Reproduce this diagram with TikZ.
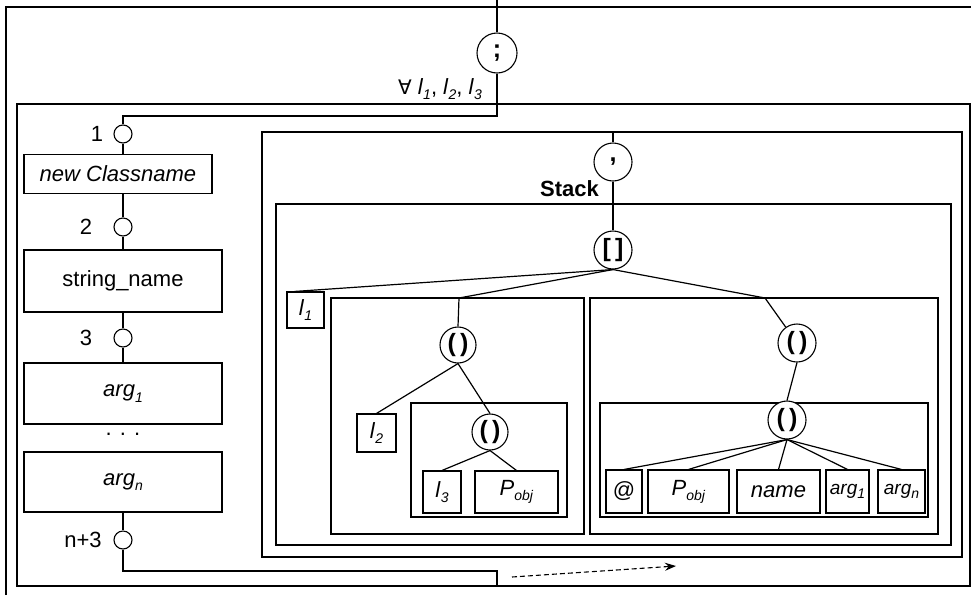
\documentclass[tikz,border=0pt]{standalone}
\usepackage{fontspec}
\setmainfont{Liberation Sans}
\newfontfamily\dejavu{DejaVu Sans}
\usetikzlibrary{arrows.meta,fit}
\newcommand\mysub[1]{\raisebox{-0.45ex}{\fontsize{14}{14}\selectfont\textit{#1}}}
\begin{document}
\begin{tikzpicture}[x=1pt,y=-1pt,
  every node/.style={font=\fontsize{22}{24}\selectfont},
  ln/.style={line width=1.2pt},
  frm/.style={draw, line width=1.1pt, inner sep=0pt, rectangle},
  box/.style={draw, line width=1.1pt, inner sep=0pt, rectangle},
  op/.style={draw, circle, line width=1.1pt, inner sep=0pt, minimum size=38pt, font=\bfseries\fontsize{25}{25}\selectfont},
  opsm/.style={op, minimum size=36pt},
  port/.style={draw, circle, line width=1.1pt, inner sep=0pt, minimum size=18pt},
  lbl/.style={inner sep=0pt}
]
\useasboundingbox (0,0) rectangle (971,595);
\fill[white] (0,0) rectangle (971,595);

% outer frame (cut off at right and bottom)
\draw[ln] (6,595) -- (6,7) -- (971,7);
\coordinate (top) at (497,0);
\node[op, minimum size=40pt] (semi) at (497,53) {;};
\node[lbl, anchor=east] (forall) at (482,89) {{\dejavu\fontsize{20}{22}\selectfont ∀} \textit{l}\mysub{1}, \textit{l}\mysub{2}, \textit{l}\mysub{3}};

% forall frame
\node[frm, fit={(17,104) (970,586)}] (fa) {};
\coordinate (j1) at (497,116);
\coordinate (j2) at (497,571);
\coordinate (j3) at (497,586);

% left column
\node[port] (p1) at (123,134) {};
\node[lbl] (n1) at (97,134) {1};
\node[box, minimum width=188pt, minimum height=39pt] (b1) at (118,174) {\textit{new Classname}};
\node[port] (p2) at (123,227) {};
\node[lbl] (n2) at (86,227) {2};
\node[box, minimum width=198pt, minimum height=62pt] (b2) at (123,281) {string\_name};
\node[port] (p3) at (123,338) {};
\node[lbl] (n3) at (86,338) {3};
\node[box, minimum width=198pt, minimum height=61pt] (b3) at (123,393.5) {\textit{arg}\mysub{1}};
\node[lbl] (dots) at (123,434) {. . .};
\node[box, minimum width=198pt, minimum height=60pt] (b4) at (123,482) {\textit{arg}\mysub{n}};
\node[port] (pn) at (123,540) {};
\node[lbl] (nn) at (83,540) {n+3};

\draw[ln] (top) -- (semi.north);
\draw[ln] (semi.south) -- (j1) -| (p1.north);
\draw[ln] (p1.south) -- (p1.south |- b1.north);
\draw[ln] (p2.north) -- (p2.north |- b1.south);
\draw[ln] (p2.south) -- (b2.north);
\draw[ln] (p3.north) -- (b2.south);
\draw[ln] (p3.south) -- (b3.north);
\draw[ln] (b4.south) -- (pn.north);
\draw[ln] (pn.south) |- (j2) -- (j3);

% dashed arrow
\coordinate (da) at (512,577);
\coordinate (db) at (676,566);
\draw[line width=1.1pt, dash pattern=on 5pt off 3pt, -{Stealth[length=11pt,width=8pt]}] (da) -- (db);

% comma frame
\node[frm, fit={(262,132) (962,557)}] (cf) {};
\coordinate (cft) at (613,132);
\node[op] (comma) at (613,162) {,};
\node[lbl, anchor=east, font=\bfseries\fontsize{22}{24}\selectfont] (stack) at (599,189) {Stack};
\draw[ln] (cft) -- (comma.north);

% stack frame
\node[frm, fit={(276,204) (951,545)}] (sf) {};
\node[op] (brk) at (613,250) {[\,]};
\draw[ln] (comma.south) -- (brk.north);

\node[box, minimum width=37pt, minimum height=36pt] (l1) at (305.5,310) {\textit{l}\mysub{1}};

% left sub frame
\node[frm, fit={(331,298) (584,534)}] (subL) {};
\coordinate (aL) at (459,298);
\node[opsm] (parL) at (458,345) {(\,)};
\node[box, minimum width=39pt, minimum height=38pt] (l2) at (376.5,433) {\textit{l}\mysub{2}};
\node[frm, fit={(411,403) (567,517)}] (inLf) {};
\node[opsm] (inL) at (490,432) {(\,)};
\node[box, minimum width=38pt, minimum height=42pt] (l3) at (442,492) {\textit{l}\mysub{3}};
\node[box, minimum width=83pt, minimum height=42pt] (pobjL) at (516.5,492) {\textit{P}\mysub{obj}};

% right sub frame
\node[frm, fit={(590,298) (938,534)}] (subR) {};
\coordinate (aR) at (765,298);
\node[op] (parR) at (797,343) {(\,)};
\node[frm, fit={(600,403) (928,517)}] (inRf) {};
\node[op, fill=white] (inR) at (787,420) {(\,)};
\node[box, minimum width=36pt, minimum height=43pt] (at) at (624,491.5) {@};
\node[box, minimum width=81pt, minimum height=43pt] (pobjR) at (688.5,491.5) {\textit{P}\mysub{obj}};
\node[box, minimum width=83pt, minimum height=43pt] (name) at (778.5,491.5) {\textit{name}};
\node[box, minimum width=43pt, minimum height=43pt, font=\fontsize{19}{22}\selectfont] (a1) at (847.5,491.5) {\textit{arg}\mysub{1}};
\node[box, minimum width=47pt, minimum height=43pt, font=\fontsize{19}{22}\selectfont] (an) at (901.5,491.5) {\textit{arg}\mysub{n}};

% tree connectors
\draw[ln] (brk.south) -- ([xshift=8pt]l1.north west);
\draw[ln] (brk.south) -- (aL);
\draw[ln] (brk.south) -- (aR);
\draw[ln] (aL) -- (parL.north);
\draw[ln] (aR) -- (parR);
\draw[ln] (parL.south) -- (l2.north);
\draw[ln] (parL.south) -- (inL.north);
\draw[ln] (inL.south) -- (l3.north);
\draw[ln] (inL.south) -- (pobjL.north);
\draw[ln] (parR.south) -- (inR.north);
\draw[ln] (inR.south) -- (at.north);
\draw[ln] (inR.south) -- (pobjR.north);
\draw[ln] (inR.south) -- (name.north);
\draw[ln] (inR.south) -- (a1.north);
\draw[ln] (inR.south) -- (an.north);
\end{tikzpicture}
\end{document}
